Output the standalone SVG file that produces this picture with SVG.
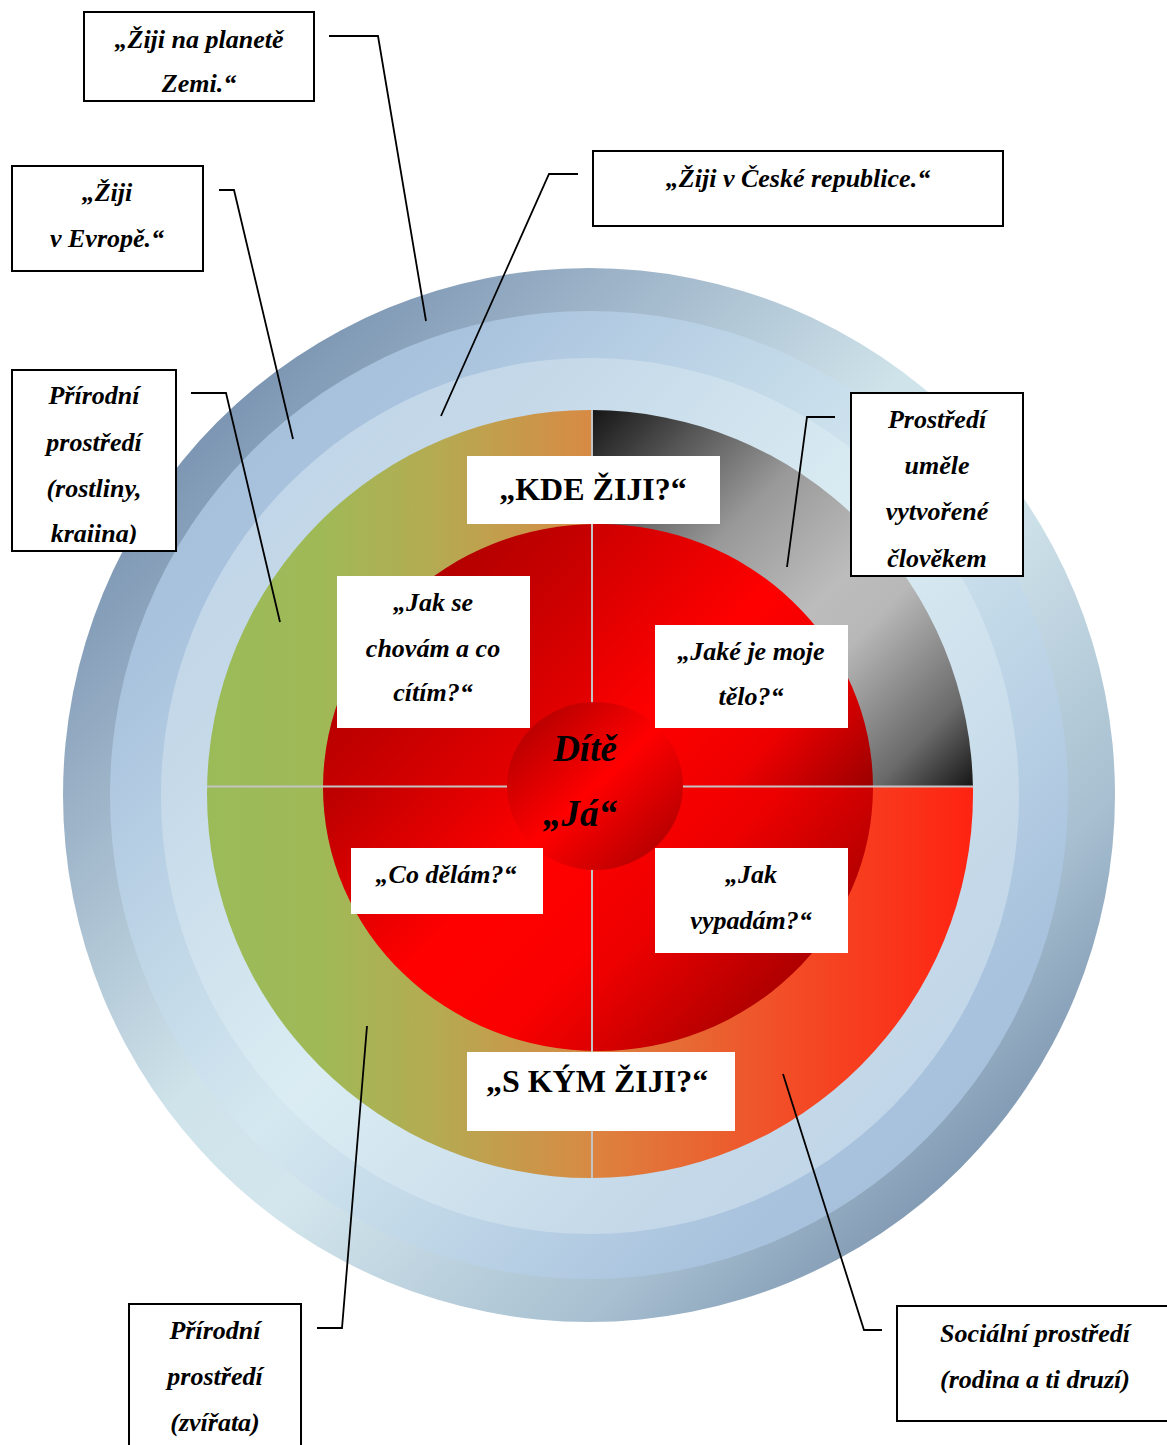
<svg xmlns="http://www.w3.org/2000/svg" width="1167" height="1445" viewBox="0 0 1167 1445">
<style>
  .box { fill: #ffffff; stroke: #000000; stroke-width: 2; }
  .wbox { fill: #ffffff; stroke: none; }
  .lbl { font-family: "Liberation Serif", "Times New Roman", serif; font-weight: bold; font-style: italic; font-size: 26px; fill: #000; text-anchor: middle; }
  .big { font-family: "Liberation Serif", "Times New Roman", serif; font-weight: bold; font-size: 32px; fill: #000; text-anchor: middle; }
  .ctr { font-family: "Liberation Serif", "Times New Roman", serif; font-weight: bold; font-style: italic; font-size: 37px; fill: #000; text-anchor: middle; }
  .conn { fill: none; stroke: #000000; stroke-width: 1.8; }
  .div { stroke: #c4c4c4; stroke-width: 2; }
</style>
<defs>
  <linearGradient id="gRing1" x1="0" y1="0" x2="1" y2="1">
    <stop offset="0" stop-color="#6a86a8"/>
    <stop offset="0.13" stop-color="#7892b0"/>
    <stop offset="0.25" stop-color="#98afc5"/>
    <stop offset="0.45" stop-color="#cfe3ea"/>
    <stop offset="0.55" stop-color="#d3e6ed"/>
    <stop offset="0.75" stop-color="#a7bfd0"/>
    <stop offset="0.87" stop-color="#7d96b0"/>
    <stop offset="1" stop-color="#6a86a8"/>
  </linearGradient>
  <linearGradient id="gRing2" x1="0" y1="0" x2="1" y2="1">
    <stop offset="0" stop-color="#a0bbd9"/>
    <stop offset="0.2" stop-color="#a9c3de"/>
    <stop offset="0.5" stop-color="#d4e8f0"/>
    <stop offset="0.8" stop-color="#a9c3de"/>
    <stop offset="1" stop-color="#a0bbd9"/>
  </linearGradient>
  <linearGradient id="gRing3" x1="0" y1="0" x2="1" y2="1">
    <stop offset="0" stop-color="#bcd2e7"/>
    <stop offset="0.25" stop-color="#c5d9e9"/>
    <stop offset="0.5" stop-color="#dbedf3"/>
    <stop offset="0.75" stop-color="#c5d9e9"/>
    <stop offset="1" stop-color="#bcd2e7"/>
  </linearGradient>
  <linearGradient id="gLeft" gradientUnits="userSpaceOnUse" x1="207" y1="0" x2="592" y2="0">
    <stop offset="0" stop-color="#9bbb59"/>
    <stop offset="0.3" stop-color="#a0b957"/>
    <stop offset="0.6" stop-color="#b5aa52"/>
    <stop offset="1" stop-color="#d88a44"/>
  </linearGradient>
  <linearGradient id="gBR" gradientUnits="userSpaceOnUse" x1="592" y1="0" x2="973" y2="0">
    <stop offset="0" stop-color="#dc8440"/>
    <stop offset="0.5" stop-color="#f24e27"/>
    <stop offset="1" stop-color="#ff2312"/>
  </linearGradient>
  <linearGradient id="gTR" gradientUnits="userSpaceOnUse" x1="592" y1="410" x2="973" y2="787">
    <stop offset="0" stop-color="#151515"/>
    <stop offset="0.16" stop-color="#555555"/>
    <stop offset="0.34" stop-color="#999999"/>
    <stop offset="0.55" stop-color="#bcbcbc"/>
    <stop offset="0.65" stop-color="#b8b8b8"/>
    <stop offset="0.87" stop-color="#6a6a6a"/>
    <stop offset="1" stop-color="#151515"/>
  </linearGradient>
  <linearGradient id="gRedTL" gradientUnits="userSpaceOnUse" x1="323" y1="524" x2="592" y2="787">
    <stop offset="0" stop-color="#990000"/>
    <stop offset="0.5" stop-color="#c40000"/>
    <stop offset="1" stop-color="#f40000"/>
  </linearGradient>
  <linearGradient id="gRedTR" gradientUnits="userSpaceOnUse" x1="592" y1="524" x2="873" y2="787">
    <stop offset="0" stop-color="#cc0000"/>
    <stop offset="0.45" stop-color="#ff0000"/>
    <stop offset="0.72" stop-color="#ee0000"/>
    <stop offset="1" stop-color="#9a0000"/>
  </linearGradient>
  <linearGradient id="gRedBL" gradientUnits="userSpaceOnUse" x1="323" y1="787" x2="592" y2="1051">
    <stop offset="0" stop-color="#b80000"/>
    <stop offset="0.5" stop-color="#ff0000"/>
    <stop offset="0.8" stop-color="#fa0000"/>
    <stop offset="1" stop-color="#dd0000"/>
  </linearGradient>
  <linearGradient id="gRedBR" gradientUnits="userSpaceOnUse" x1="592" y1="787" x2="873" y2="1051">
    <stop offset="0" stop-color="#ff0000"/>
    <stop offset="0.35" stop-color="#ee0000"/>
    <stop offset="0.75" stop-color="#a80000"/>
    <stop offset="1" stop-color="#900000"/>
  </linearGradient>
  <linearGradient id="gCenter" x1="0" y1="0" x2="1" y2="1">
    <stop offset="0" stop-color="#a00000"/>
    <stop offset="0.5" stop-color="#ff0000"/>
    <stop offset="1" stop-color="#a00000"/>
  </linearGradient>
  <clipPath id="cTL"><rect x="0" y="0" width="592" height="787"/></clipPath>
  <clipPath id="cTR"><rect x="592" y="0" width="600" height="787"/></clipPath>
  <clipPath id="cBL"><rect x="0" y="787" width="592" height="700"/></clipPath>
  <clipPath id="cBR"><rect x="592" y="787" width="600" height="700"/></clipPath>
  <clipPath id="cLeft"><rect x="0" y="0" width="592" height="1445"/></clipPath>
  <clipPath id="clipB1"><rect x="84" y="12" width="230" height="83"/></clipPath>
  <clipPath id="clipB3"><rect x="12" y="370" width="164" height="174"/></clipPath>
  <clipPath id="clipB5"><rect x="851" y="393" width="172" height="175"/></clipPath>
</defs>

<g id="rings">
  <ellipse cx="589" cy="795" rx="526" ry="527" fill="url(#gRing1)"/>
  <ellipse cx="589" cy="795" rx="479" ry="484" fill="url(#gRing2)"/>
  <ellipse cx="590" cy="796" rx="429" ry="438" fill="url(#gRing3)"/>
</g>

<g id="quadrants">
  <ellipse cx="590" cy="794" rx="383" ry="384" fill="url(#gLeft)" clip-path="url(#cLeft)"/>
  <ellipse cx="590" cy="794" rx="383" ry="384" fill="url(#gTR)" clip-path="url(#cTR)"/>
  <ellipse cx="590" cy="794" rx="383" ry="384" fill="url(#gBR)" clip-path="url(#cBR)"/>
</g>

<g id="red-circle">
  <ellipse cx="598" cy="787.5" rx="275" ry="263.5" fill="url(#gRedTL)" clip-path="url(#cTL)"/>
  <ellipse cx="598" cy="787.5" rx="275" ry="263.5" fill="url(#gRedTR)" clip-path="url(#cTR)"/>
  <ellipse cx="598" cy="787.5" rx="275" ry="263.5" fill="url(#gRedBL)" clip-path="url(#cBL)"/>
  <ellipse cx="598" cy="787.5" rx="275" ry="263.5" fill="url(#gRedBR)" clip-path="url(#cBR)"/>
</g>

<g id="dividers">
  <line class="div" x1="592" y1="410" x2="592" y2="1178"/>
  <line class="div" x1="207" y1="786.5" x2="973" y2="786.5"/>
</g>

<g id="node-center">
  <ellipse cx="595" cy="786" rx="88" ry="84" fill="url(#gCenter)"/>
  <text class="ctr" x="585" y="761">Dítě</text>
  <text class="ctr" x="580" y="826">„Já“</text>
</g>

<g id="node-kde">
  <rect class="wbox" x="467" y="456" width="253" height="68"/>
  <text class="big" x="593" y="500">„KDE ŽIJI?“</text>
</g>

<g id="node-skym">
  <rect class="wbox" x="467" y="1052" width="268" height="79"/>
  <text class="big" x="597" y="1092">„S KÝM ŽIJI?“</text>
</g>

<g id="node-chovam">
  <rect class="wbox" x="337" y="576" width="193" height="152"/>
  <text class="lbl" x="433" y="611">„Jak se</text>
  <text class="lbl" x="433" y="657">chovám a co</text>
  <text class="lbl" x="433" y="701">cítím?“</text>
</g>

<g id="node-telo">
  <rect class="wbox" x="655" y="625" width="193" height="103"/>
  <text class="lbl" x="751" y="660">„Jaké je moje</text>
  <text class="lbl" x="751" y="705">tělo?“</text>
</g>

<g id="node-delam">
  <rect class="wbox" x="351" y="848" width="192" height="66"/>
  <text class="lbl" x="446" y="883">„Co dělám?“</text>
</g>

<g id="node-vypadam">
  <rect class="wbox" x="655" y="848" width="193" height="105"/>
  <text class="lbl" x="751" y="883">„Jak</text>
  <text class="lbl" x="751" y="929">vypadám?“</text>
</g>

<g id="connectors">
  <polyline class="conn" points="329,36 378,36 426,321"/>
  <polyline class="conn" points="219,190 234,190 293,439"/>
  <polyline class="conn" points="191,393 226,393 280,622"/>
  <polyline class="conn" points="578,174 549,174 441,416"/>
  <polyline class="conn" points="835,417 807,417 787,567"/>
  <polyline class="conn" points="317,1328 342,1328 367,1026"/>
  <polyline class="conn" points="882,1330 864,1330 783,1074"/>
</g>

<g id="node-zeme">
  <rect class="box" x="84" y="12" width="230" height="89"/>
  <g clip-path="url(#clipB1)">
    <text class="lbl" x="199" y="48">„Žiji na planetě</text>
    <text class="lbl" x="199" y="92">Zemi.“</text>
  </g>
</g>

<g id="node-evropa">
  <rect class="box" x="12" y="166" width="191" height="105"/>
  <text class="lbl" x="107" y="201">„Žiji</text>
  <text class="lbl" x="107" y="247">v Evropě.“</text>
</g>

<g id="node-rostliny">
  <rect class="box" x="12" y="370" width="164" height="181"/>
  <g clip-path="url(#clipB3)">
    <text class="lbl" x="94" y="404">Přírodní</text>
    <text class="lbl" x="94" y="451">prostředí</text>
    <text class="lbl" x="94" y="497">(rostliny,</text>
    <text class="lbl" x="94" y="542">kraiina)</text>
  </g>
</g>

<g id="node-cr">
  <rect class="box" x="593" y="151" width="410" height="75"/>
  <text class="lbl" x="798" y="187">„Žiji v České republice.“</text>
</g>

<g id="node-umele">
  <rect class="box" x="851" y="393" width="172" height="183"/>
  <g clip-path="url(#clipB5)">
    <text class="lbl" x="937" y="428">Prostředí</text>
    <text class="lbl" x="937" y="474">uměle</text>
    <text class="lbl" x="937" y="520">vytvořené</text>
    <text class="lbl" x="937" y="567">člověkem</text>
  </g>
</g>

<g id="node-zvirata">
  <rect class="box" x="129" y="1304" width="172" height="160"/>
  <text class="lbl" x="215" y="1339">Přírodní</text>
  <text class="lbl" x="215" y="1385">prostředí</text>
  <text class="lbl" x="215" y="1431">(zvířata)</text>
</g>

<g id="node-socialni">
  <rect class="box" x="897" y="1306" width="290" height="115"/>
  <text class="lbl" x="1035" y="1342">Sociální prostředí</text>
  <text class="lbl" x="1035" y="1388">(rodina a ti druzí)</text>
</g>
</svg>
